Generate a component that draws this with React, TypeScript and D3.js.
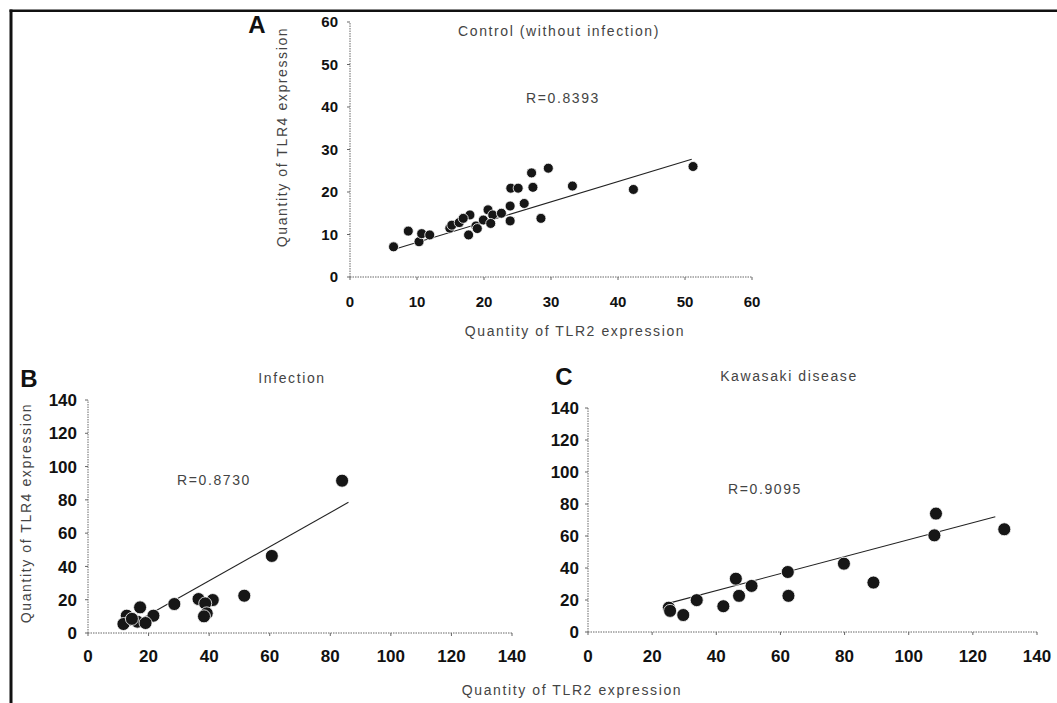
import React from "react";
import * as d3 from "d3";

// ---------- data ----------
const controlTLR2 = [6.5, 8.7, 10.3, 10.7, 11.9, 14.9, 15.2, 16.3, 17.9, 16.9, 17.7, 18.8, 19.0, 19.9, 20.6, 21.3, 21.0, 22.6, 23.9, 23.9, 24.0, 25.1, 26.0, 27.1, 27.3, 29.6, 28.5, 33.2, 42.3, 51.2];
const controlTLR4 = [7.1, 10.8, 8.3, 10.2, 9.9, 11.5, 12.2, 12.8, 14.6, 13.8, 9.9, 12.0, 11.4, 13.4, 15.8, 14.6, 12.6, 15.0, 16.7, 13.2, 20.9, 20.9, 17.3, 24.5, 21.1, 25.6, 13.8, 21.4, 20.6, 26.0];

const infectionTLR2 = [83.9, 60.7, 51.6, 36.5, 41.2, 38.7, 39.2, 38.3, 28.5, 21.6, 17.2, 16.3, 12.8, 11.7, 19.0, 14.5];
const infectionTLR4 = [91.5, 46.3, 22.4, 20.4, 19.8, 17.8, 11.8, 10.0, 17.4, 10.4, 15.4, 6.8, 10.4, 5.4, 6.0, 8.5];

const kawasakiTLR2 = [25.2, 25.6, 29.7, 33.9, 42.2, 46.1, 47.1, 51.0, 62.3, 62.5, 79.8, 89.0, 108.5, 108.0, 129.8];
const kawasakiTLR4 = [15.2, 13.2, 10.6, 19.9, 16.1, 33.3, 22.6, 28.8, 37.5, 22.6, 42.7, 30.9, 74.0, 60.4, 64.2];

// regression line end points [x0, y0, x1, y1]
const trendControl = [7, 6.7, 51, 27.7];
const trendInfection = [12, 2.7, 86, 78.5];
const trendKawasaki = [25, 17.9, 127, 72];

const ticksControl = [0, 10, 20, 30, 40, 50, 60];
const ticksWide = [0, 20, 40, 60, 80, 100, 120, 140];

const titles = ["Control (without infection)", "Infection", "Kawasaki disease"];
const rLabels = ["R=0.8393", "R=0.8730", "R=0.9095"];
const xTitle = "Quantity of TLR2 expression";
const yTitle = "Quantity of TLR4 expression";

const FONT = "Arial, 'Liberation Sans', sans-serif";

type PanelProps = {
  xs: number[];
  ys: number[];
  trend: number[];
  ticks: number[];
  xRange: [number, number];
  yRange: [number, number];
  r: number;
  tickSize: number;
  labelGap: number;
  xLabelDy: number;
};

function Panel({ xs, ys, trend, ticks, xRange, yRange, r, tickSize, labelGap, xLabelDy }: PanelProps) {
  const dom: [number, number] = [ticks[0], ticks[ticks.length - 1]];
  const x = d3.scaleLinear().domain(dom).range(xRange);
  const y = d3.scaleLinear().domain(dom).range(yRange);
  const x0 = x(0);
  const y0 = y(0);
  return (
    <g>
      {/* axes */}
      <line x1={x0} x2={x(dom[1])} y1={y0} y2={y0} stroke="#666" strokeWidth={1} strokeDasharray="1.5,1" />
      <line x1={x0} x2={x0} y1={y0} y2={y(dom[1])} stroke="#666" strokeWidth={1} strokeDasharray="1.5,1" />
      {ticks.map((t) => (
        <g key={"x" + t}>
          <line x1={x(t)} x2={x(t)} y1={y0} y2={y0 + 3} stroke="#666" strokeWidth={1} />
          <text x={x(t)} y={y0 + xLabelDy} textAnchor="middle" fontFamily={FONT} fontSize={tickSize} fontWeight="bold" fill="#111">
            {t}
          </text>
        </g>
      ))}
      {ticks.map((t) => (
        <g key={"y" + t}>
          <line x1={x0 - 3} x2={x0} y1={y(t)} y2={y(t)} stroke="#666" strokeWidth={1} />
          <text x={x0 - labelGap} y={y(t)} dy="0.36em" textAnchor="end" fontFamily={FONT} fontSize={tickSize} fontWeight="bold" fill="#111">
            {t}
          </text>
        </g>
      ))}
      {/* trend */}
      <line x1={x(trend[0])} y1={y(trend[1])} x2={x(trend[2])} y2={y(trend[3])} stroke="#222" strokeWidth={1.1} />
      {/* points */}
      {xs.map((v, i) => (
        <circle key={i} cx={x(v)} cy={y(ys[i])} r={r} fill="#161616" stroke="#fff" strokeWidth={0.8} />
      ))}
    </g>
  );
}

const labelStyle = { fontFamily: FONT, fontSize: 14, fill: "#444", letterSpacing: "1.6px" } as const;

export default function App() {
  return (
    <svg width={1057} height={703} style={{ position: "absolute", left: 0, top: 0, background: "#fff" }}>
      <rect x={0} y={0} width={1057} height={703} fill="#fff" />
      {/* frame */}
      <line x1={9.5} x2={1057} y1={10.8} y2={10.8} stroke="#111" strokeWidth={2.4} />
      <line x1={11} x2={11} y1={9.5} y2={703} stroke="#111" strokeWidth={3} />

      {/* Panel A */}
      <text x={257} y={33} textAnchor="middle" fontFamily={FONT} fontSize={24} fontWeight="bold" fill="#111">A</text>
      <text x={559} y={36} textAnchor="middle" {...labelStyle}>{titles[0]}</text>
      <text x={563} y={103} textAnchor="middle" {...labelStyle}>{rLabels[0]}</text>
      <Panel xs={controlTLR2} ys={controlTLR4} trend={trendControl} ticks={ticksControl} xRange={[350, 752]} yRange={[277, 22]} r={5} tickSize={15} labelGap={12} xLabelDy={30} />
      <text x={575} y={336} textAnchor="middle" {...labelStyle}>{xTitle}</text>
      <text transform="translate(287,137) rotate(-90)" textAnchor="middle" {...labelStyle}>{yTitle}</text>

      {/* Panel B */}
      <text x={29} y={387} textAnchor="middle" fontFamily={FONT} fontSize={24} fontWeight="bold" fill="#111">B</text>
      <text x={292} y={383} textAnchor="middle" {...labelStyle}>{titles[1]}</text>
      <text x={214} y={485} textAnchor="middle" {...labelStyle}>{rLabels[1]}</text>
      <Panel xs={infectionTLR2} ys={infectionTLR4} trend={trendInfection} ticks={ticksWide} xRange={[88, 512]} yRange={[633, 400]} r={6.5} tickSize={17} labelGap={11} xLabelDy={29} />
      <text transform="translate(31,513) rotate(-90)" textAnchor="middle" {...labelStyle}>{yTitle}</text>

      {/* Panel C */}
      <text x={564} y={385} textAnchor="middle" fontFamily={FONT} fontSize={24} fontWeight="bold" fill="#111">C</text>
      <text x={789} y={381} textAnchor="middle" {...labelStyle}>{titles[2]}</text>
      <text x={765} y={494} textAnchor="middle" {...labelStyle}>{rLabels[2]}</text>
      <Panel xs={kawasakiTLR2} ys={kawasakiTLR4} trend={trendKawasaki} ticks={ticksWide} xRange={[588, 1037]} yRange={[632, 408]} r={6.5} tickSize={17} labelGap={9} xLabelDy={30} />

      {/* shared x title */}
      <text x={572} y={695} textAnchor="middle" {...labelStyle}>{xTitle}</text>
    </svg>
  );
}
